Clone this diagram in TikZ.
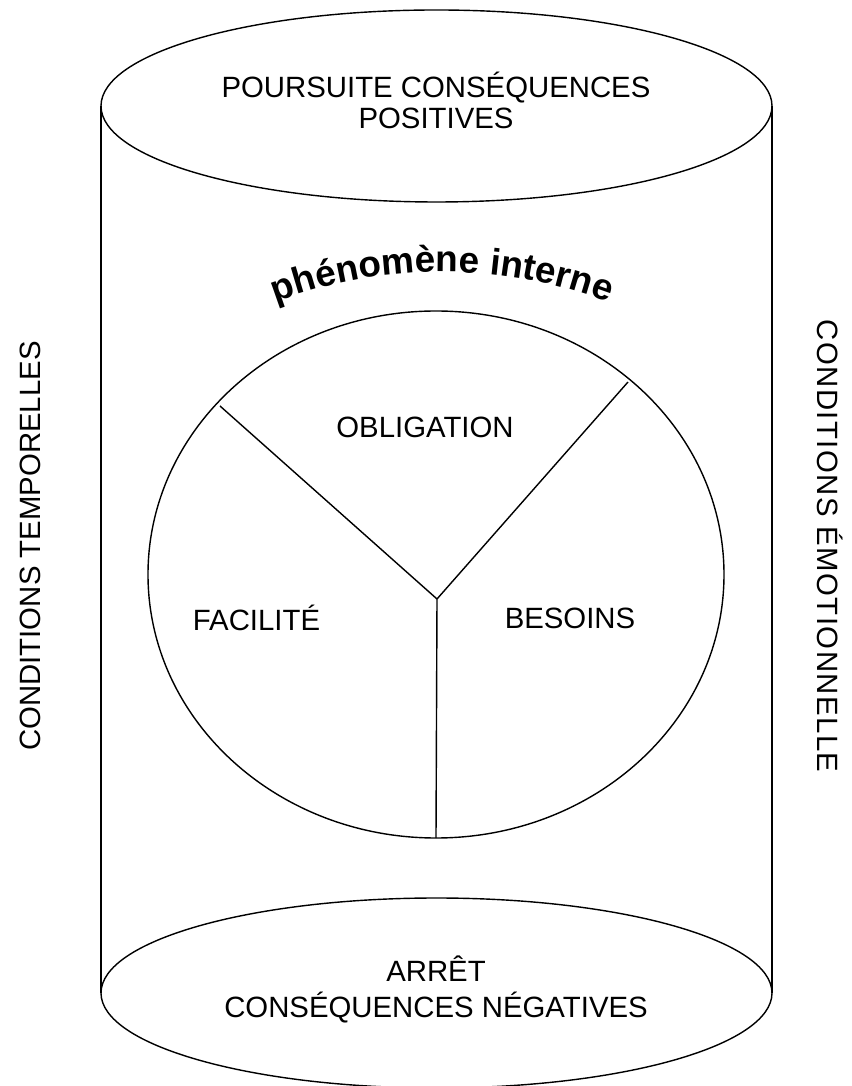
\documentclass[tikz,border=0pt]{standalone}
\usepackage{fontspec}
\setmainfont{Liberation Sans}
\usetikzlibrary{decorations.text}
\tikzset{lbl/.style={font=\fontsize{16.7}{17.9}\selectfont, align=center}}

\begin{document}
\begin{tikzpicture}[line width=0.8pt]
        \useasboundingbox 
            (-8.72,-10.23) rectangle (8.30,11.49);
        \draw 
            (0.01,9.37) ellipse (6.71cm and 1.92cm);
        \draw 
            (-6.70,9.37)--(-6.70,-8.37);
        \draw 
            (6.72,9.37)--(6.72,-8.37);
        \draw 
            (0.01,-8.37) ellipse (6.71cm and 1.90cm);
        \draw 
            (0,0) ellipse (5.76cm and 5.27cm);
        \coordinate (hub) at (0.02,-0.49);
        \coordinate (left) at (-4.32,3.37);
        \coordinate (right) at (3.84,3.85);
        \coordinate (bottom) at (0,-5.27);
        \draw 
            (hub)--(left);
        \draw 
            (hub)--(right);
        \draw 
            (hub)--(bottom);
        \path 
            [decorate, decoration={text along path, text align=center,
            text={|\bfseries\fontsize{21}{24}\selectfont|phénomène interne}}]
            (0.12,-3.40) ++(116:9.45) arc (116:64:9.45);
        \draw 
            (0,9.48) node[lbl] (pours) {POURSUITE CONSÉQUENCES\\POSITIVES};
        \draw 
            (0,-8.29) node[lbl, font=\fontsize{16.7}{20.5}\selectfont] (arret) {ARRÊT\\CONSÉQUENCES NÉGATIVES};
        \draw 
            (-0.22,2.95) node[lbl] (oblig) {OBLIGATION};
        \draw 
            (-3.59,-0.87) node[lbl] (facil) {FACILITÉ};
        \draw 
            (2.68,-0.87) node[lbl] (besoin) {BESOINS};
        \draw 
            (-8.12,0.57) node[lbl, rotate=90] (temp) {CONDITIONS TEMPORELLES};
        \draw 
            (7.88,0.57) node[lbl, rotate=-90, font=\fontsize{16.7}{17.9}\selectfont\addfontfeatures{LetterSpace=5}] (emot) {CONDITIONS ÉMOTIONNELLE};
    \end{tikzpicture}
\end{document}
